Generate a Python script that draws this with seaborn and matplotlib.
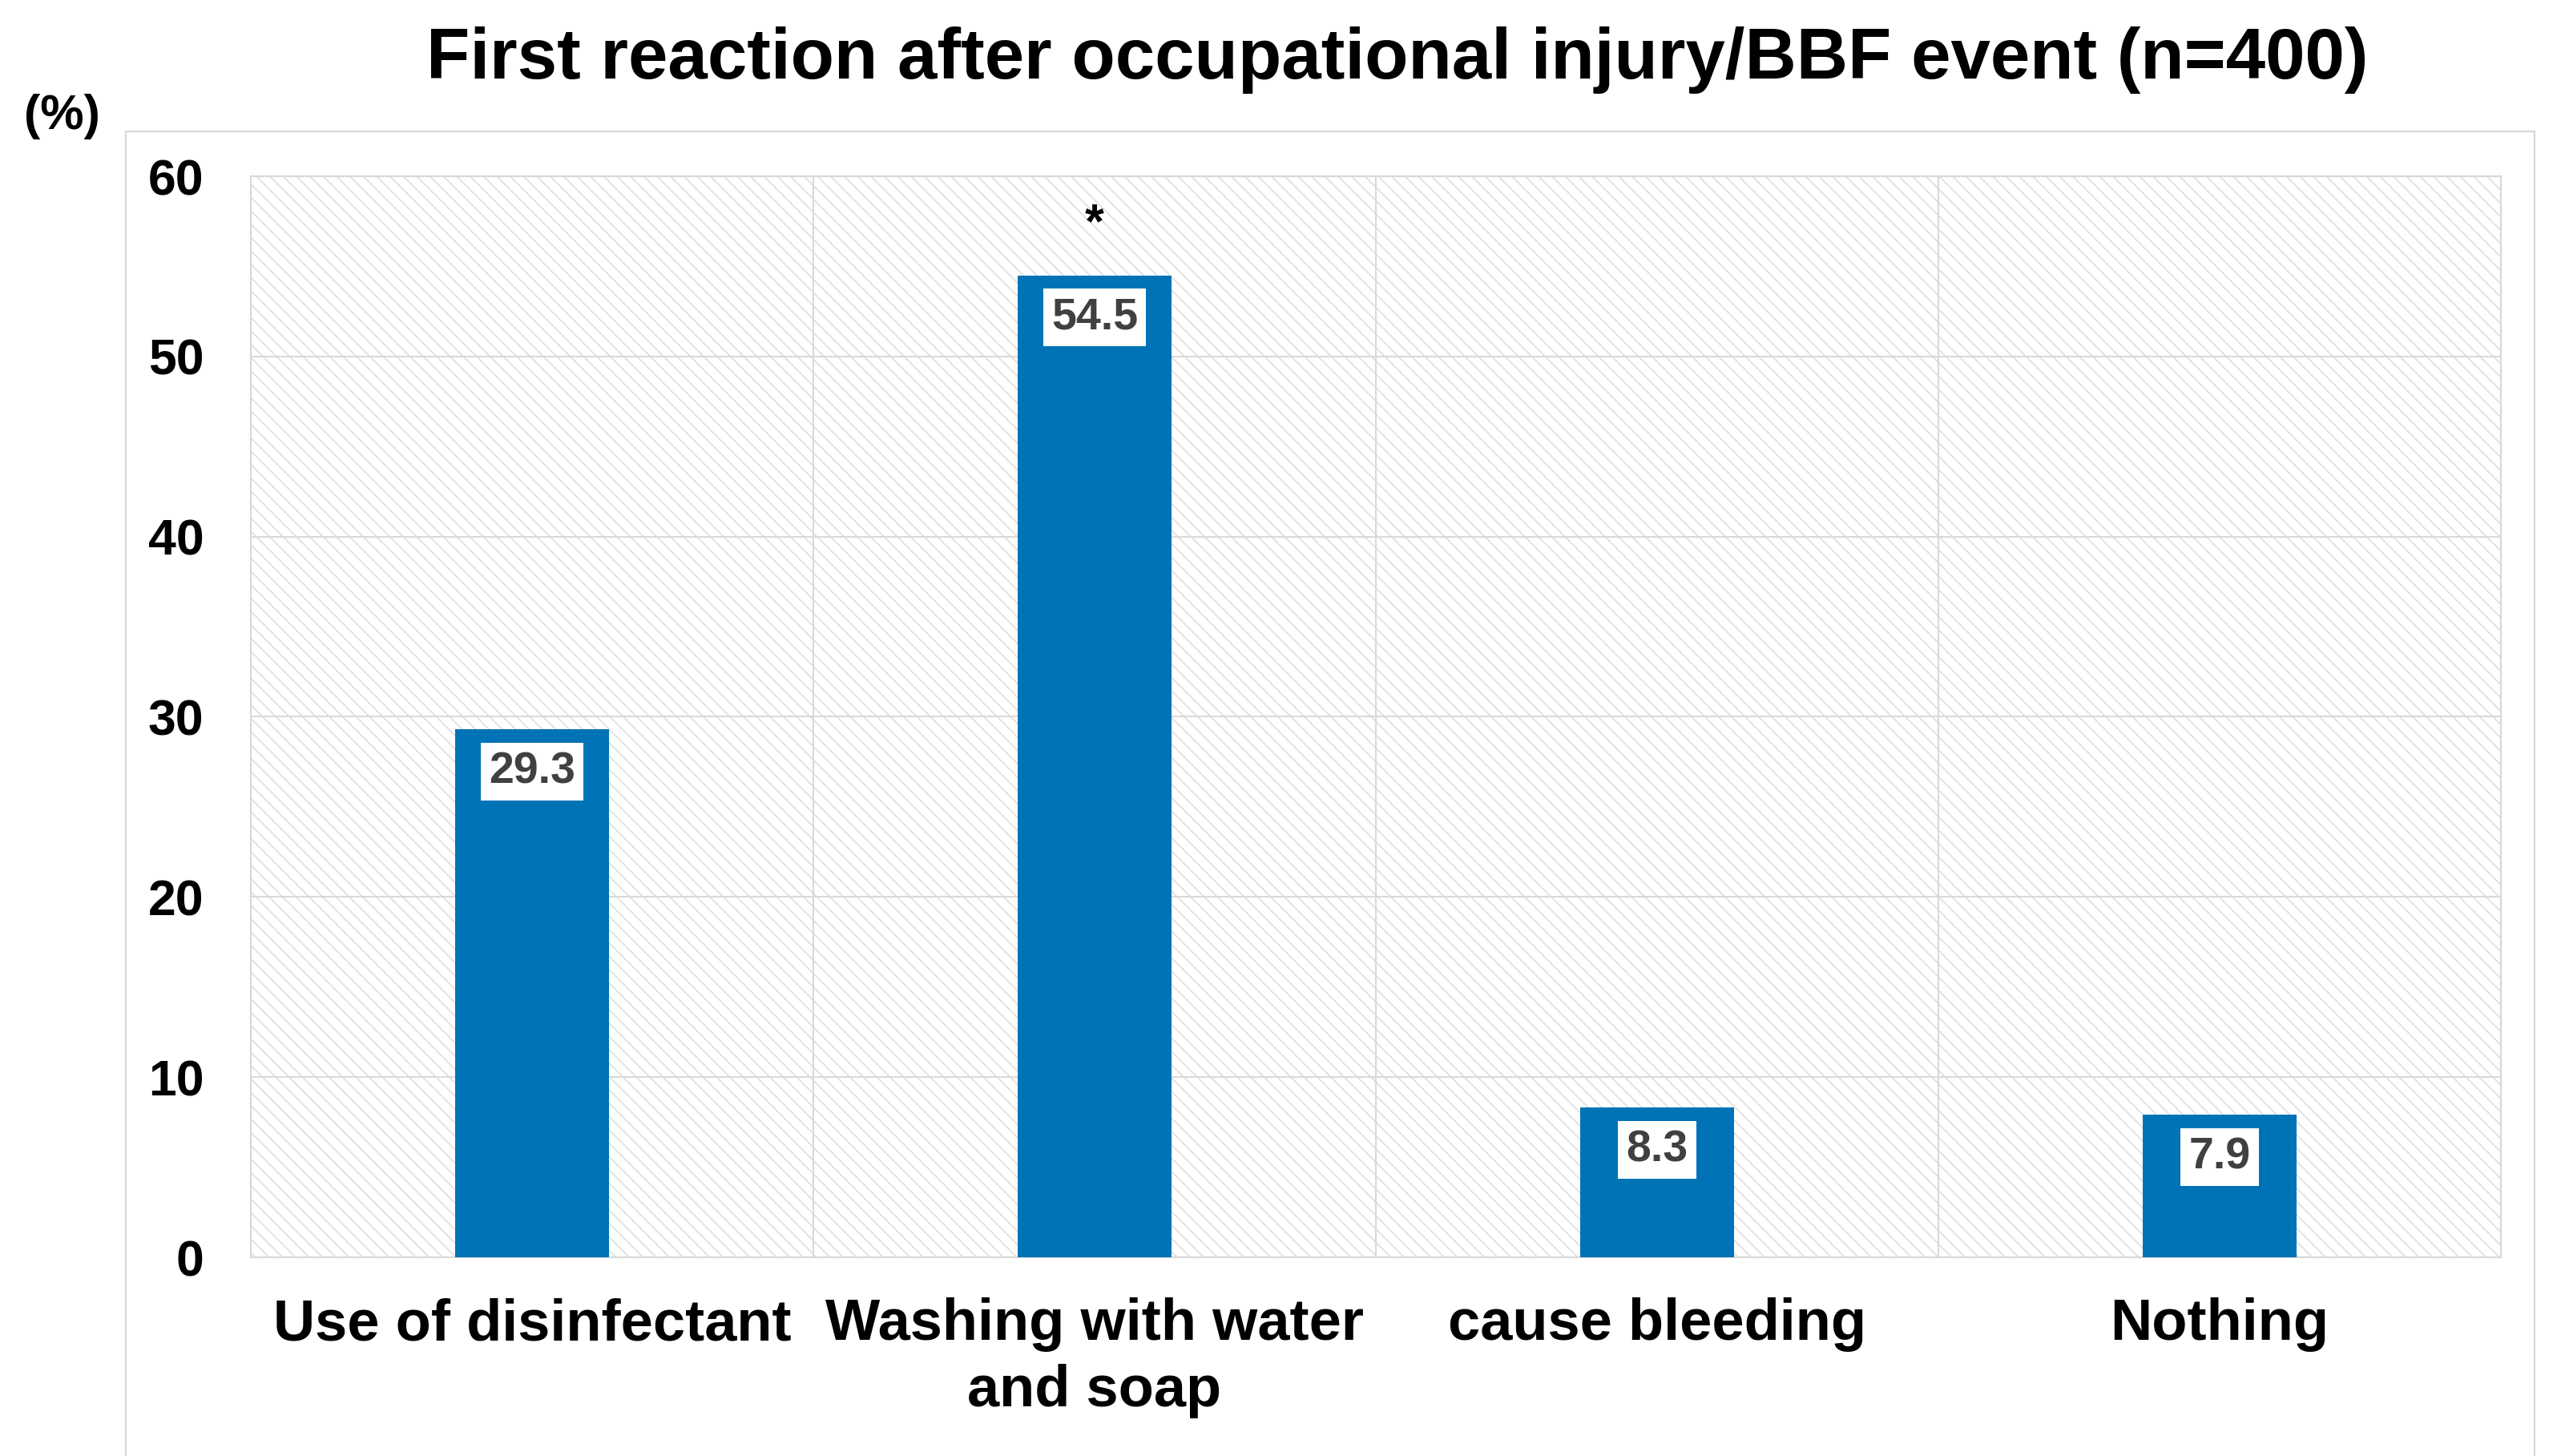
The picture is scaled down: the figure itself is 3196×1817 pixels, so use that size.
import matplotlib
matplotlib.use("Agg")
import matplotlib.pyplot as plt
from matplotlib.patches import Rectangle
import seaborn as sns
import pandas as pd

categories = ["Use of disinfectant", "Washing with water\nand soap", "cause bleeding", "Nothing"]
values = [29.3, 54.5, 8.3, 7.9]
value_labels = ["29.3", "54.5", "8.3", "7.9"]
significance = ["", "*", "", ""]
yticks = [0, 10, 20, 30, 40, 50, 60]
title = "First reaction after occupational injury/BBF event (n=400)"
ylabel_unit = "(%)"

sns.set_theme(style="white")
FONT = "Liberation Sans"
plt.rcParams["font.family"] = [FONT, "DejaVu Sans"]
plt.rcParams["hatch.linewidth"] = 1.0
plt.rcParams["hatch.color"] = "#d8d8d8"

W, H, DPI = 3196, 1817, 100
fig = plt.figure(figsize=(W / DPI, H / DPI), dpi=DPI)
fig.patch.set_facecolor("white")

# outer chart-area border
fig.patches.append(Rectangle((157 / W, -0.01), (3163 - 157) / W, 1 - 164 / H + 0.01,
                             transform=fig.transFigure, fill=False,
                             edgecolor="#d9d9d9", linewidth=1.6, zorder=0))

ax = fig.add_axes([313 / W, 1 - 1569 / H, (3121 - 313) / W, (1569 - 220) / H])
ax.set_facecolor("white")
ax.add_patch(Rectangle((0, 0), 1, 1, transform=ax.transAxes, facecolor="white",
                       edgecolor="#d8d8d8", linewidth=0, hatch="\\\\", zorder=0))

df = pd.DataFrame({"cat": categories, "val": values})
sns.barplot(data=df, x="cat", y="val", color="#0073b7", width=0.273,
            saturation=1, ax=ax, zorder=3, edgecolor="none")

ax.set_ylim(0, 60)
ax.set_xlim(-0.5, len(categories) - 0.5)
ax.set_yticks(yticks)
ax.set_yticklabels([str(t) for t in yticks])
ax.set_xlabel("")
ax.set_ylabel("")

for y in yticks[1:-1]:
    ax.axhline(y, color="#d9d9d9", linewidth=1.5, zorder=1)
for x in [0.5, 1.5, 2.5]:
    ax.axvline(x, color="#d9d9d9", linewidth=1.5, zorder=1)
for s in ax.spines.values():
    s.set_color("#d9d9d9")
    s.set_linewidth(1.6)
    s.set_visible(True)

ax.tick_params(axis="y", length=0, pad=42, labelsize=45)
ax.tick_params(axis="x", length=0, pad=36, labelsize=52)
for lab in ax.get_yticklabels() + ax.get_xticklabels():
    lab.set_fontweight("bold")
    lab.set_color("black")
for lab in ax.get_xticklabels():
    lab.set_linespacing(1.28)

for i, (v, lbl, sig) in enumerate(zip(values, value_labels, significance)):
    ax.annotate(lbl, (i, v), xytext=(0, -38), textcoords="offset points",
                ha="center", va="center", fontsize=40, fontweight="bold",
                color="#404040", zorder=5,
                bbox=dict(boxstyle="square,pad=0.18", facecolor="white",
                          edgecolor="none"))
    if sig:
        ax.annotate(sig, (i, v), xytext=(0, 45), textcoords="offset points",
                    ha="center", va="center", fontsize=44, fontweight="bold",
                    color="black", zorder=5)

fig.text(1744 / W, 1 - 75 / H, title, ha="center", va="center",
         fontsize=64, fontweight="bold", color="black")
fig.text(77 / W, 1 - 145 / H, ylabel_unit, ha="center", va="center",
         fontsize=44, fontweight="bold", color="black")

fig.savefig("out.png", dpi=DPI, facecolor="white")
